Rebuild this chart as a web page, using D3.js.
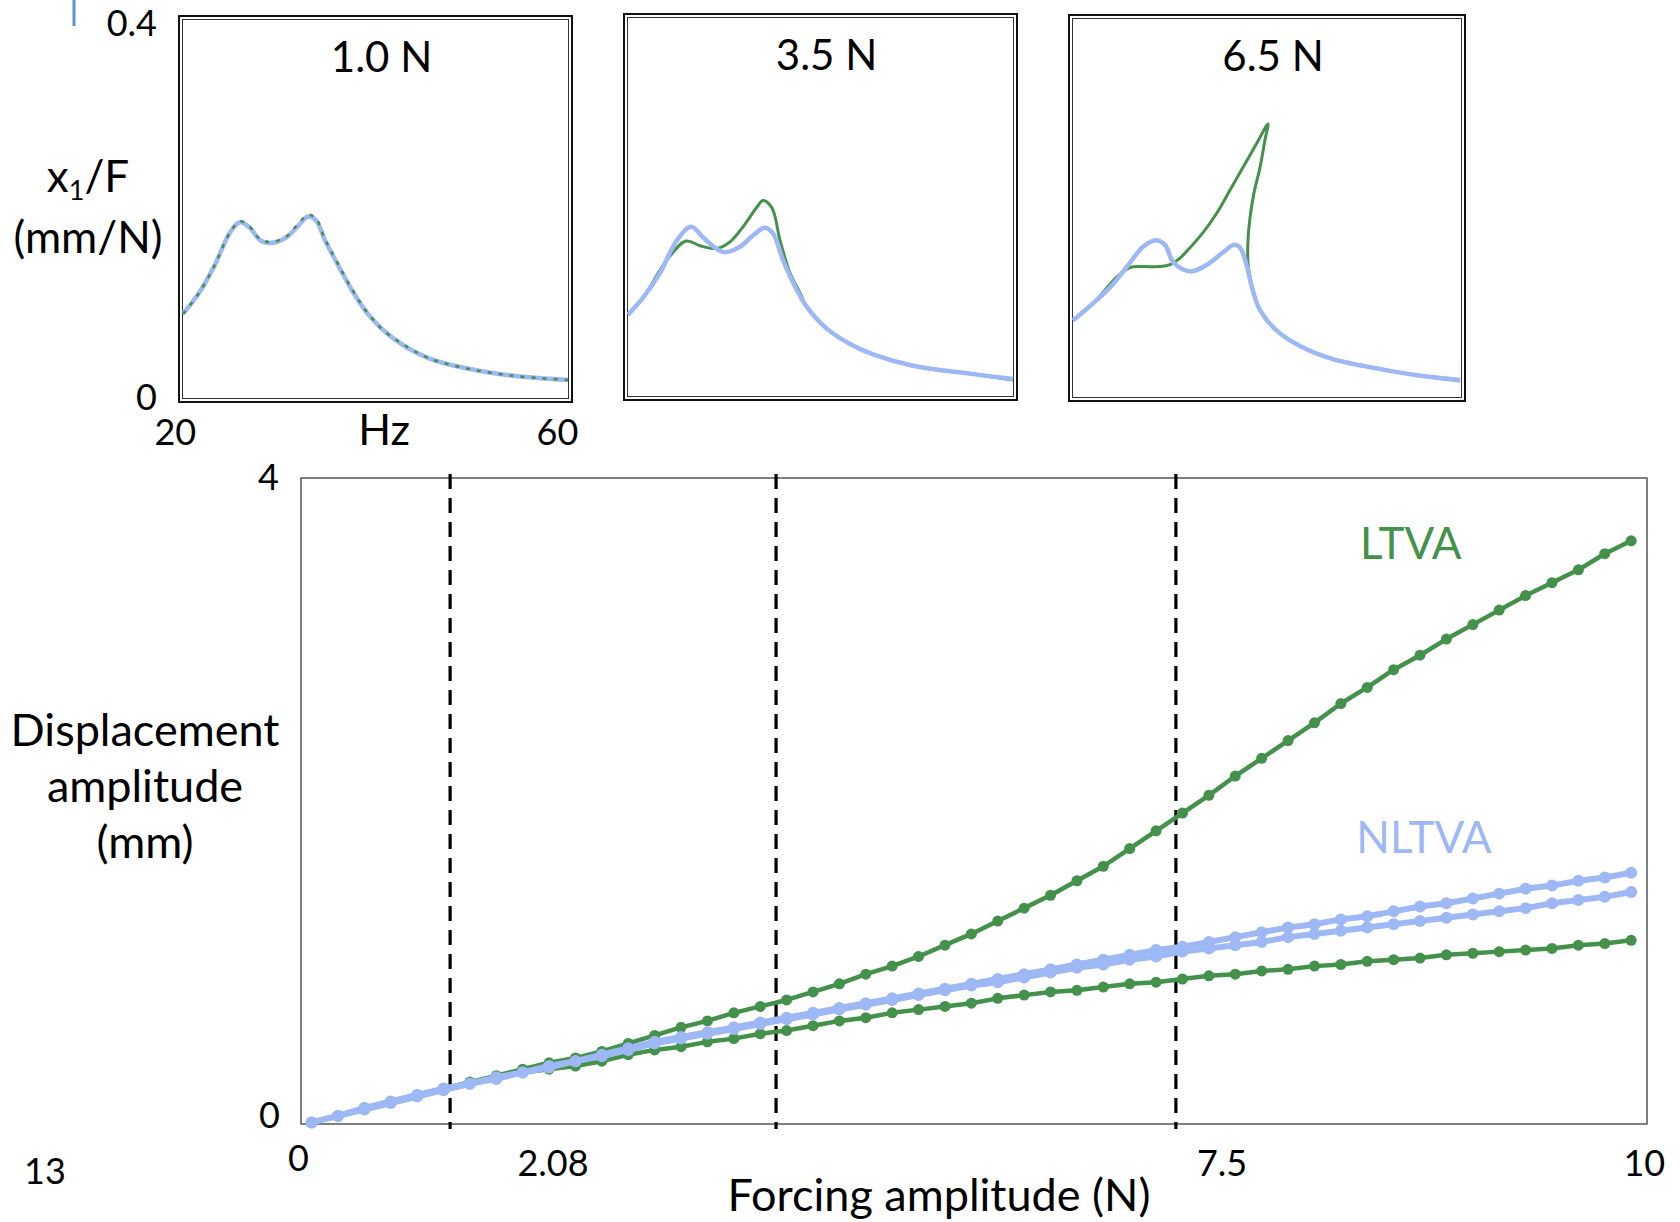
<!DOCTYPE html>
<html>
<head>
<meta charset="utf-8">
<script src="https://cdn.jsdelivr.net/npm/d3@7/dist/d3.min.js"></script>
<style>
  body { margin: 0; background: #fff; }
  text { font-family: Lato, "Open Sans", sans-serif; fill: #000; }
</style>
</head>
<body>
<div id="chart"></div>
<script>
// ---- frequency responses (Hz, x1/F in mm/N) ----
var panelTitles = ["1.0 N", "3.5 N", "6.5 N"];

var frf1Nltva = [[20.0,0.089],[21.66,0.111],[23.22,0.139],[24.88,0.175],[25.92,0.186],[26.96,0.180],[28.0,0.167],[29.04,0.164],[30.6,0.169],[31.95,0.182],[32.99,0.192],[33.82,0.188],[34.75,0.167],[35.99,0.143],[37.56,0.114],[39.12,0.090],[40.78,0.072],[43.17,0.054],[45.56,0.042],[48.68,0.033],[53.87,0.024],[60.0,0.019]];
var frf1Ltva = [[20.0,0.089],[21.66,0.111],[23.22,0.139],[24.88,0.175],[25.92,0.187],[26.96,0.181],[28.0,0.168],[29.04,0.165],[30.6,0.170],[31.95,0.184],[32.99,0.194],[33.82,0.190],[34.75,0.168],[35.99,0.144],[37.56,0.115],[39.12,0.091],[40.78,0.072],[43.17,0.055],[45.56,0.042],[48.68,0.033],[53.87,0.024],[60.0,0.019]];

var frf2Nltva = [[20.0,0.086],[21.56,0.104],[23.32,0.130],[25.09,0.165],[26.55,0.179],[27.79,0.168],[29.04,0.157],[30.08,0.152],[31.64,0.158],[32.99,0.170],[34.23,0.178],[35.06,0.172],[36.10,0.144],[37.14,0.120],[38.60,0.094],[40.68,0.071],[43.07,0.055],[45.46,0.044],[49.61,0.032],[55.22,0.024],[60.0,0.018]];
var frf2Ltva = [[20.0,0.086],[21.56,0.104],[24.05,0.144],[26.03,0.164],[27.48,0.159],[28.83,0.156],[29.56,0.157],[30.60,0.163],[31.95,0.179],[33.40,0.200],[34.03,0.207],[34.96,0.199],[35.79,0.165],[36.83,0.130],[37.87,0.109],[38.60,0.094],[40.68,0.071],[43.07,0.055],[45.46,0.044],[49.61,0.032],[55.22,0.024],[60.0,0.017]];

var frf3Nltva = [[20.0,0.081],[22.06,0.099],[23.81,0.116],[25.57,0.138],[27.22,0.159],[28.56,0.166],[29.48,0.161],[30.31,0.143],[31.34,0.135],[32.27,0.133],[33.81,0.140],[35.46,0.153],[36.60,0.161],[37.22,0.158],[37.94,0.138],[38.45,0.116],[39.28,0.092],[41.03,0.070],[43.40,0.054],[46.80,0.040],[51.96,0.029],[55.46,0.023],[59.90,0.018]];
var frf3Ltva = [[20.0,0.081],[22.06,0.099],[24.54,0.127],[25.88,0.137],[27.22,0.138],[28.97,0.138],[30.0,0.140],[31.03,0.147],[32.06,0.158],[33.40,0.174],[34.85,0.195],[36.19,0.219],[37.53,0.243],[38.97,0.269],[40.10,0.289],[39.79,0.272],[39.28,0.243],[38.66,0.216],[38.25,0.190],[38.04,0.166],[38.04,0.142],[38.25,0.127],[38.56,0.113],[39.28,0.092],[41.03,0.070],[43.40,0.054],[46.80,0.040],[51.96,0.029],[55.46,0.023],[59.90,0.017]];

// ---- amplitude vs forcing (N, mm) ----
var forcing = [0,0.2,0.4,0.6,0.8,1,1.2,1.4,1.6,1.8,2,2.2,2.4,2.6,2.8,3,3.2,3.4,3.6,3.8,4,4.2,4.4,4.6,4.8,5,5.2,5.4,5.6,5.8,6,6.2,6.4,6.6,6.8,7,7.2,7.4,7.6,7.8,8,8.2,8.4,8.6,8.8,9,9.2,9.4,9.6,9.8,10];
var ltvaUpper = [0.00,0.04,0.09,0.13,0.17,0.21,0.25,0.29,0.33,0.37,0.40,0.44,0.49,0.54,0.59,0.63,0.68,0.72,0.76,0.81,0.86,0.92,0.97,1.03,1.10,1.17,1.25,1.33,1.41,1.50,1.59,1.70,1.81,1.92,2.03,2.15,2.26,2.37,2.48,2.60,2.70,2.81,2.90,3.00,3.09,3.18,3.27,3.35,3.43,3.53,3.61];
var ltvaLower = [0.00,0.04,0.09,0.13,0.17,0.21,0.24,0.28,0.31,0.33,0.35,0.38,0.42,0.45,0.47,0.50,0.52,0.55,0.57,0.60,0.63,0.65,0.68,0.70,0.72,0.74,0.77,0.79,0.81,0.82,0.84,0.86,0.87,0.89,0.91,0.92,0.94,0.95,0.97,0.98,1.00,1.01,1.02,1.04,1.05,1.06,1.07,1.08,1.10,1.11,1.13];
var nltvaUpper = [0.00,0.04,0.09,0.13,0.17,0.21,0.24,0.28,0.31,0.35,0.38,0.42,0.46,0.50,0.53,0.56,0.59,0.62,0.65,0.68,0.71,0.74,0.77,0.80,0.83,0.86,0.89,0.92,0.95,0.98,1.01,1.04,1.07,1.09,1.12,1.15,1.18,1.21,1.23,1.26,1.28,1.31,1.34,1.36,1.39,1.42,1.45,1.47,1.50,1.52,1.55];
var nltvaLower = [0.00,0.04,0.08,0.12,0.16,0.20,0.24,0.27,0.31,0.34,0.38,0.41,0.45,0.49,0.52,0.55,0.58,0.61,0.64,0.67,0.70,0.73,0.76,0.79,0.82,0.85,0.87,0.90,0.93,0.96,0.98,1.01,1.03,1.06,1.08,1.10,1.12,1.15,1.17,1.19,1.21,1.23,1.25,1.27,1.29,1.31,1.33,1.36,1.38,1.40,1.43];

var markerForces = [1.05, 3.52, 6.55];   // dashed lines (forcing levels of the panels)
var xTickLabels = ["0", "2.08", "7.5", "10"];
var xTickAt = [-0.1, 1.83, 6.9, 10.1];

var green = "#43914a";
var blue = "#9db8f5";

var W = 1680, H = 1222;
var svg = d3.select("#chart").append("svg")
    .attr("width", W)
    .attr("height", H)
    .style("background", "#fff");

// ---------- small FRF panels ----------
var panels = [
    {x: 179, y: 16, w: 393, h: 386, nl: frf1Nltva, l: frf1Ltva, dashed: true},
    {x: 624, y: 14, w: 393, h: 386, nl: frf2Nltva, l: frf2Ltva, dashed: false},
    {x: 1069, y: 15, w: 396, h: 386, nl: frf3Nltva, l: frf3Ltva, dashed: false}
];

panels.forEach(function(p, i) {
    var g = svg.append("g");
    var ix = p.x + 4, iy = p.y + 4, iw = p.w - 8, ih = p.h - 8;

    var xs = d3.scaleLinear().domain([20, 60]).range([ix, ix + iw]);
    var ys = d3.scaleLinear().domain([0, 0.4]).range([iy + ih, iy]);

    // double frame
    g.append("rect").attr("x", p.x).attr("y", p.y).attr("width", p.w).attr("height", p.h)
        .attr("fill", "none").attr("stroke", "#111").attr("stroke-width", 2);
    g.append("rect").attr("x", ix - 0.5).attr("y", iy - 0.5).attr("width", iw + 1).attr("height", ih + 1)
        .attr("fill", "none").attr("stroke", "#333").attr("stroke-width", 1);

    var line = d3.line()
        .x(d => xs(d[0]))
        .y(d => ys(d[1]))
        .curve(d3.curveCatmullRom.alpha(0.5));

    if (p.dashed) {
        g.append("path").datum(p.nl).attr("d", line)
            .attr("fill", "none").attr("stroke", blue).attr("stroke-width", 4.5);
        g.append("path").datum(p.l).attr("d", line)
            .attr("fill", "none").attr("stroke", green).attr("stroke-width", 2.5)
            .attr("stroke-dasharray", "4,7");
    } else {
        g.append("path").datum(p.l).attr("d", line)
            .attr("fill", "none").attr("stroke", green).attr("stroke-width", 3);
        g.append("path").datum(p.nl).attr("d", line)
            .attr("fill", "none").attr("stroke", blue).attr("stroke-width", 4.5);
    }

    g.append("text")
        .attr("x", p.x + p.w / 2 + 6)
        .attr("y", p.y + 56)
        .attr("text-anchor", "middle")
        .style("font-size", "42px")
        .text(panelTitles[i]);

    if (i === 0) {
        // frequency axis labels
        g.append("text").attr("x", xs(19.2)).attr("y", 445).attr("text-anchor", "middle")
            .style("font-size", "36px").text("20");
        g.append("text").attr("x", xs(58.9)).attr("y", 445).attr("text-anchor", "middle")
            .style("font-size", "36px").text("60");
        g.append("text").attr("x", xs(40.9)).attr("y", 445).attr("text-anchor", "middle")
            .style("font-size", "43px").text("Hz");
        g.append("text").attr("x", 157).attr("y", ys(0.4) + 16).attr("text-anchor", "end")
            .style("font-size", "36px").text("0.4");
        g.append("text").attr("x", 157).attr("y", ys(0) + 12).attr("text-anchor", "end")
            .style("font-size", "36px").text("0");

        var yl = g.append("text").attr("x", 88).attr("y", 192).attr("text-anchor", "middle")
            .style("font-size", "44px");
        yl.append("tspan").text("x");
        yl.append("tspan").attr("dy", 8).style("font-size", "27px").text("1");
        yl.append("tspan").attr("dy", -8).text("/F");
        g.append("text").attr("x", 88).attr("y", 253).attr("text-anchor", "middle")
            .style("font-size", "44px").text("(mm/N)");
    }
});

// small blue mark in the corner
svg.append("line").attr("x1", 74).attr("x2", 74).attr("y1", 0).attr("y2", 26)
    .attr("stroke", "#5b8edb").attr("stroke-width", 3);

// ---------- main amplitude plot ----------
var mx = d3.scaleLinear().domain([-0.08, 10.12]).range([301, 1647]);
var my = d3.scaleLinear().domain([-0.01, 4]).range([1124, 478]);

svg.append("rect")
    .attr("x", mx.range()[0]).attr("y", my.range()[1])
    .attr("width", mx.range()[1] - mx.range()[0])
    .attr("height", my.range()[0] - my.range()[1])
    .attr("fill", "none").attr("stroke", "#555").attr("stroke-width", 1.5);

// dashed lines at panel force levels
svg.selectAll("line.level")
    .data(markerForces)
    .enter().append("line")
    .attr("class", "level")
    .attr("x1", d => mx(d)).attr("x2", d => mx(d))
    .attr("y1", my.range()[1] - 4).attr("y2", my.range()[0] + 5)
    .attr("stroke", "#000").attr("stroke-width", 3.2)
    .attr("stroke-dasharray", "15,9");

var series = [
    {vals: ltvaUpper, color: green, lw: 4.5, r: 5.5},
    {vals: ltvaLower, color: green, lw: 4.5, r: 5.5},
    {vals: nltvaUpper, color: blue, lw: 6, r: 6},
    {vals: nltvaLower, color: blue, lw: 6, r: 6}
];

var mline = d3.line().x(d => mx(d[0])).y(d => my(d[1]));

series.forEach(function(s) {
    var pts = forcing.map((f, k) => [f, s.vals[k]]);
    svg.append("path").datum(pts).attr("d", mline)
        .attr("fill", "none").attr("stroke", s.color).attr("stroke-width", s.lw)
        .attr("stroke-linejoin", "round");
    svg.append("g").selectAll("circle")
        .data(pts).enter().append("circle")
        .attr("cx", d => mx(d[0])).attr("cy", d => my(d[1]))
        .attr("r", s.r).attr("fill", s.color);
});

// series labels
svg.append("text").attr("x", mx(8.33)).attr("y", my(3.5)).attr("text-anchor", "middle")
    .style("font-size", "44px").style("fill", green).text("LTVA");
svg.append("text").attr("x", mx(8.43)).attr("y", my(1.67)).attr("text-anchor", "middle")
    .style("font-size", "44px").style("fill", blue).text("NLTVA");

// y ticks
svg.append("text").attr("x", 279).attr("y", my(4) + 12).attr("text-anchor", "end")
    .style("font-size", "36px").text("4");
svg.append("text").attr("x", 280).attr("y", my(0) + 6).attr("text-anchor", "end")
    .style("font-size", "36px").text("0");

// x tick labels
svg.selectAll("text.xtick")
    .data(xTickLabels)
    .enter().append("text")
    .attr("class", "xtick")
    .attr("x", (d, k) => mx(xTickAt[k]))
    .attr("y", (d, k) => k === 0 ? 1171 : 1176)
    .attr("text-anchor", "middle")
    .style("font-size", "36px")
    .text(d => d);

svg.append("text").attr("x", 45).attr("y", 1184).attr("text-anchor", "middle")
    .style("font-size", "36px").text("13");

// axis titles
svg.append("text").attr("x", 939).attr("y", 1211).attr("text-anchor", "middle")
    .style("font-size", "45px").text("Forcing amplitude (N)");

var ytitle = ["Displacement", "amplitude", "(mm)"];
svg.selectAll("text.ytitle")
    .data(ytitle)
    .enter().append("text")
    .attr("class", "ytitle")
    .attr("x", 145)
    .attr("y", (d, k) => 746 + k * 56)
    .attr("text-anchor", "middle")
    .style("font-size", "45px")
    .text(d => d);
</script>
</body>
</html>
